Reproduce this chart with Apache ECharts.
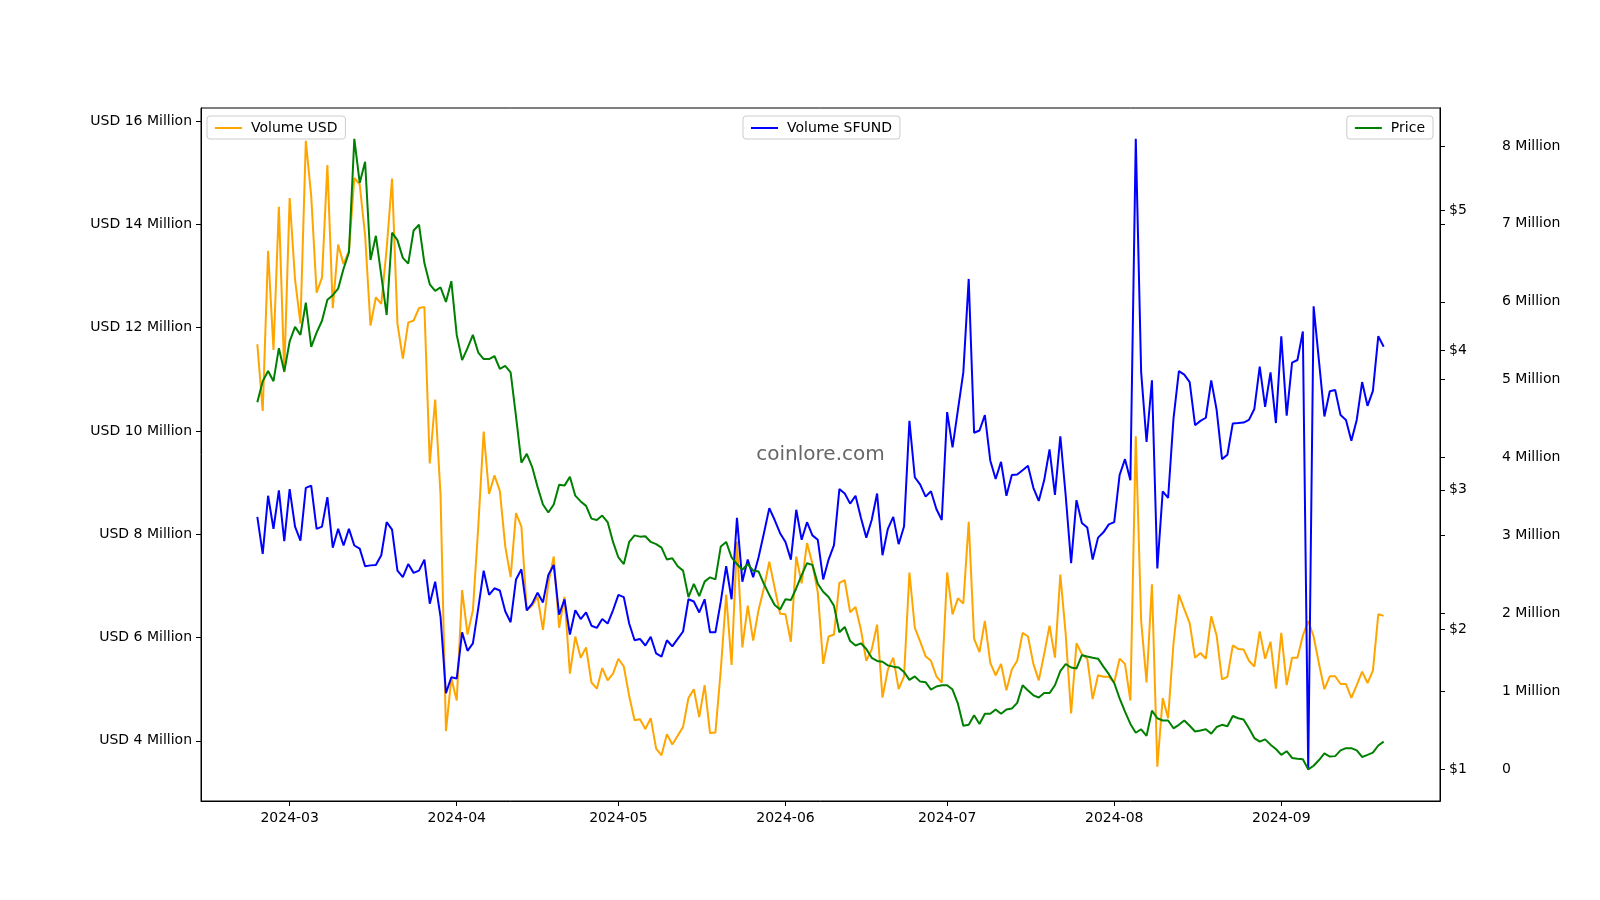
<!DOCTYPE html>
<html><head><meta charset="utf-8">
<script src="https://cdn.jsdelivr.net/npm/echarts@6/dist/echarts.min.js"></script>
<style>html,body{margin:0;padding:0;background:#fff;}#chart{width:1600px;height:900px;}</style>
</head><body><div id="chart"></div>
<script>
// ---- data (daily, starting 2024-02-24) ----
const startDate = '2024-02-24';
const monthLabels = ['2024-03','2024-04','2024-05','2024-06','2024-07','2024-08','2024-09'];

// Volume USD, in millions of USD
const volumeUSD = [
11.68,10.39,13.49,11.57,14.34,11.14,14.51,12.93,12.08,15.62,14.55,12.68,12.97,15.15,12.38,13.61,13.23,13.49,14.9,14.77,13.79,12.04,
12.59,12.46,13.53,14.89,12.08,11.40,12.10,12.14,12.38,12.40,9.37,10.61,8.75,4.19,5.21,4.78,6.92,6.06,6.53,8.15,9.99,
8.78,9.14,8.84,7.77,7.17,8.41,8.15,6.53,6.62,6.79,6.15,7.05,7.57,6.19,6.79,5.30,6.02,5.61,5.81,5.13,5.01,
5.41,5.17,5.30,5.59,5.44,4.87,4.40,4.42,4.23,4.44,3.85,3.72,4.13,3.93,4.10,4.27,4.83,5.0,4.46,5.08,4.15,
4.16,5.38,6.83,5.47,7.86,5.81,6.62,5.94,6.53,6.96,7.47,6.96,6.46,6.45,5.92,7.57,7.05,7.83,7.43,6.87,
5.49,6.02,6.06,7.06,7.11,6.49,6.59,6.15,5.55,5.77,6.25,4.84,5.38,5.61,5.0,5.25,7.26,6.19,5.92,5.64,5.55,5.25,
5.13,7.26,6.45,6.76,6.66,8.24,5.98,5.72,6.32,5.51,5.27,5.49,4.98,5.38,5.55,6.09,6.02,5.49,5.17,5.68,6.23,
5.61,7.22,6.06,4.53,5.89,5.68,5.59,4.81,5.27,5.24,5.24,5.13,5.59,5.49,4.78,9.90,6.32,5.13,7.03,3.50,4.83,
4.44,5.89,6.83,6.55,6.28,5.61,5.70,5.59,6.41,6.04,5.19,5.24,5.85,5.78,5.77,5.55,5.44,6.12,5.59,5.92,5.01,
6.09,5.08,5.61,5.61,6.04,6.32,6.02,5.49,5.0,5.25,5.25,5.10,5.10,4.83,5.08,5.34,5.12,5.36,6.45,6.42
];

// Volume SFUND, in millions of tokens
const volumeSFUND = [
3.24,2.765,3.511,3.087,3.579,2.929,3.596,3.116,2.935,3.613,3.641,3.087,3.116,3.494,2.845,3.087,2.873,3.087,2.873,2.833,2.607,2.618,
2.624,2.748,3.172,3.076,2.55,2.466,2.635,2.522,2.55,2.692,2.127,2.409,1.957,0.979,1.183,1.166,1.759,1.522,1.618,2.07,2.55,
2.24,2.324,2.296,2.03,1.889,2.437,2.568,2.042,2.127,2.268,2.143,2.494,2.624,1.985,2.183,1.731,2.042,1.929,2.014,1.844,1.816,
1.929,1.872,2.042,2.24,2.211,1.872,1.657,1.674,1.59,1.703,1.488,1.448,1.657,1.578,1.674,1.77,2.183,2.155,2.014,2.183,1.759,
1.759,2.155,2.607,2.183,3.229,2.409,2.692,2.466,2.72,3.031,3.353,3.2,3.031,2.918,2.692,3.331,2.946,3.172,3.003,2.946,
2.438,2.692,2.878,3.596,3.54,3.41,3.511,3.229,2.974,3.2,3.54,2.748,3.087,3.24,2.89,3.116,4.472,3.749,3.653,3.5,3.568,3.342,
3.2,4.585,4.133,4.614,5.094,6.293,4.32,4.348,4.546,3.964,3.726,3.947,3.511,3.777,3.783,3.839,3.896,3.613,3.444,3.709,4.105,
3.523,4.275,3.511,2.647,3.455,3.161,3.104,2.692,2.974,3.042,3.144,3.172,3.777,3.981,3.709,8.09,5.094,4.201,4.993,2.579,3.568,
3.483,4.501,5.111,5.066,4.97,4.416,4.472,4.512,4.992,4.614,3.981,4.037,4.439,4.444,4.45,4.484,4.625,5.168,4.653,5.094,4.444,
5.558,4.54,5.219,5.253,5.62,0.0,5.942,5.236,4.529,4.851,4.868,4.546,4.484,4.218,4.484,4.97,4.665,4.857,5.558,5.422
];

// Price, USD
const price = [
3.626,3.777,3.850,3.777,4.013,3.846,4.061,4.165,4.108,4.338,4.023,4.124,4.209,4.360,4.392,4.439,4.581,4.697,5.510,5.195,5.347,4.644,
4.817,4.533,4.250,4.839,4.786,4.659,4.618,4.855,4.896,4.622,4.470,4.423,4.448,4.344,4.492,4.108,3.928,4.013,4.108,3.982,3.935,
3.935,3.957,3.865,3.887,3.840,3.525,3.194,3.257,3.163,3.021,2.895,2.838,2.895,3.036,3.030,3.093,2.958,2.917,2.885,2.794,2.784,
2.816,2.769,2.627,2.516,2.469,2.627,2.674,2.665,2.668,2.627,2.611,2.586,2.501,2.510,2.453,2.422,2.233,2.327,2.239,2.343,2.374,
2.359,2.595,2.627,2.516,2.469,2.428,2.469,2.422,2.416,2.327,2.248,2.176,2.144,2.217,2.211,2.296,2.390,2.475,2.463,2.327,
2.271,2.233,2.17,1.981,2.019,1.918,1.886,1.902,1.861,1.798,1.776,1.77,1.744,1.735,1.729,1.697,1.64,1.665,1.628,1.624,1.571,1.593,
1.602,1.602,1.571,1.47,1.312,1.319,1.388,1.325,1.398,1.398,1.429,1.398,1.429,1.435,1.476,1.602,1.565,1.53,1.514,1.546,1.546,
1.602,1.703,1.754,1.729,1.722,1.817,1.807,1.798,1.792,1.735,1.681,1.618,1.508,1.413,1.325,1.262,1.287,1.24,1.42,1.366,1.35,
1.35,1.294,1.319,1.35,1.312,1.271,1.278,1.287,1.256,1.303,1.319,1.309,1.382,1.366,1.357,1.294,1.224,1.199,1.215,1.177,1.146,
1.104,1.13,1.082,1.076,1.073,1.0,1.026,1.067,1.114,1.092,1.095,1.136,1.152,1.152,1.136,1.089,1.104,1.12,1.171,1.199
];

const usdTicks = [4, 6, 8, 10, 12, 14, 16];
const priceTicks = [1, 2, 3, 4, 5];
const sfundTicks = [0, 1, 2, 3, 4, 5, 6, 7, 8];

// ---- build ----
const DAY = 86400000;
const ref = Date.UTC(2024, 2, 1);
const t0 = Date.parse(startDate + 'T00:00:00Z');
const dayOf = i => (t0 - ref) / DAY + i;
const monthDays = monthLabels.map(s => (Date.parse(s + '-01T00:00:00Z') - ref) / DAY);
const toXY = arr => arr.map((v, i) => [dayOf(i), v]);

const FONT = 'DejaVu Sans';
const txt = { color: '#000', fontSize: 14, fontFamily: FONT };
const yTxt = Object.assign({ padding: [3, 0, 0, 0] }, txt);
const axLine = { show: true, onZero: false, lineStyle: { color: '#000', width: 1 } };

const chart = echarts.init(document.getElementById('chart'), null, { renderer: 'canvas' });

const legendBase = {
  orient: 'horizontal', top: 116, icon: 'rect', itemWidth: 27, itemHeight: 2,
  padding: [5, 8, 4, 8], backgroundColor: 'rgba(255,255,255,0.8)', borderColor: '#cccccc',
  borderWidth: 1, borderRadius: 3, selectedMode: false,
  textStyle: Object.assign({ padding: [2, 0, 0, 4] }, txt)
};

chart.setOption({
  backgroundColor: '#ffffff',
  animation: false,
  grid: { left: 201, right: 160, top: 108, bottom: 99, show: true, borderColor: '#000', borderWidth: 1, backgroundColor: 'transparent' },
  legend: [
    Object.assign({}, legendBase, { left: 207, data: ['Volume USD'] }),
    Object.assign({}, legendBase, { left: 743, data: ['Volume SFUND'] }),
    Object.assign({}, legendBase, { right: 167, data: ['Price'] })
  ],
  xAxis: {
    type: 'value', min: -16.45, max: 213.45,
    axisLine: axLine,
    axisTick: { show: true, length: 5, lineStyle: { color: '#000' }, customValues: monthDays },
    axisLabel: Object.assign({ customValues: monthDays, margin: 10,
      formatter: v => { const k = monthDays.indexOf(v); return k >= 0 ? monthLabels[k] : ''; } }, txt),
    splitLine: { show: false }
  },
  yAxis: [
    {
      type: 'value', position: 'left', min: 2.835, max: 16.255,
      axisLine: axLine,
      axisTick: { show: true, length: 5, lineStyle: { color: '#000' }, customValues: usdTicks },
      axisLabel: Object.assign({ customValues: usdTicks, margin: 9, formatter: v => 'USD ' + v + ' Million' }, yTxt),
      splitLine: { show: false }
    },
    {
      type: 'value', position: 'right', offset: 0, min: -0.405, max: 8.486,
      axisLine: axLine,
      axisTick: { show: true, length: 5, lineStyle: { color: '#000' }, customValues: sfundTicks },
      axisLabel: Object.assign({ customValues: sfundTicks, margin: 62, formatter: v => v === 0 ? '0' : v + ' Million' }, yTxt),
      splitLine: { show: false }
    },
    {
      type: 'value', position: 'right', offset: 0, min: 0.774, max: 5.731,
      axisLine: axLine,
      axisTick: { show: true, length: 5, lineStyle: { color: '#000' }, customValues: priceTicks },
      axisLabel: Object.assign({ customValues: priceTicks, margin: 9, formatter: v => '$' + v }, yTxt),
      splitLine: { show: false }
    }
  ],
  graphic: [{
    type: 'text', x: 820.5, y: 454.5, z: 0,
    style: { text: 'coinlore.com', fill: '#666666', font: '20px "DejaVu Sans"', textAlign: 'center', textVerticalAlign: 'middle' }
  }],
  series: [
    { name: 'Volume USD', type: 'line', yAxisIndex: 0, data: toXY(volumeUSD), symbol: 'none', color: '#FFA500', lineStyle: { width: 2, color: '#FFA500' }, z: 2 },
    { name: 'Volume SFUND', type: 'line', yAxisIndex: 1, data: toXY(volumeSFUND), symbol: 'none', color: '#0000FF', lineStyle: { width: 2, color: '#0000FF' }, z: 3 },
    { name: 'Price', type: 'line', yAxisIndex: 2, data: toXY(price), symbol: 'none', color: '#008000', lineStyle: { width: 2, color: '#008000' }, z: 4 }
  ]
});
</script>
</body></html>
